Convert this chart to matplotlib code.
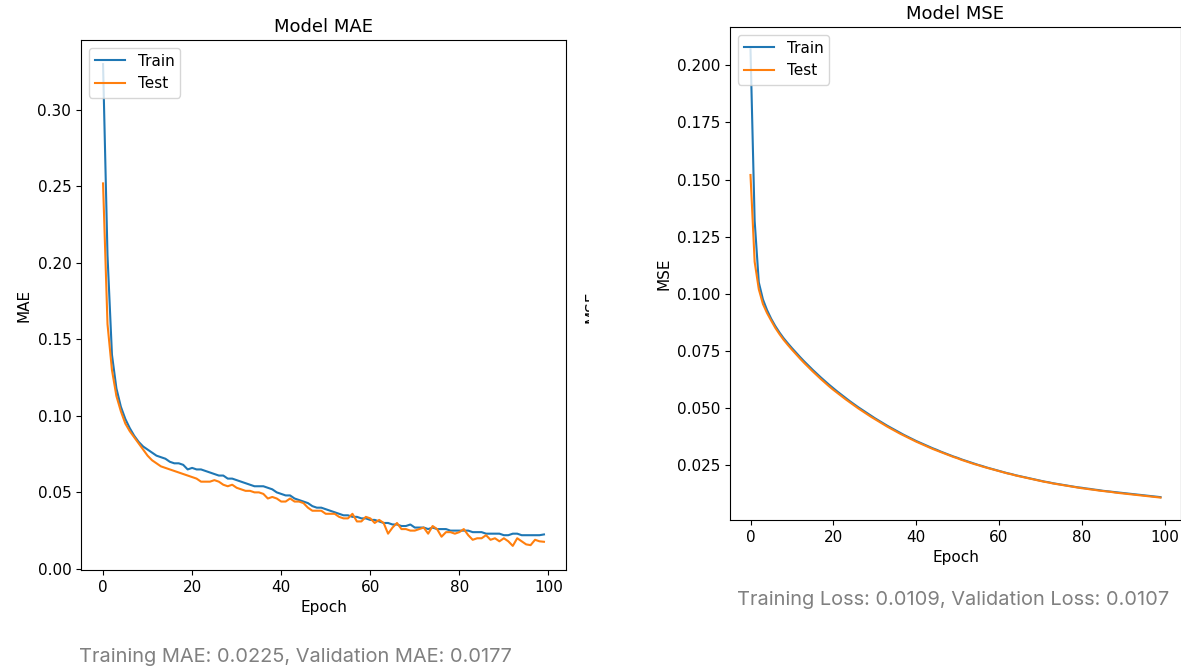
import matplotlib
matplotlib.use("Agg")
import matplotlib.pyplot as plt
from matplotlib.transforms import Bbox, TransformedBbox

W, H = 1181, 671

epochs = list(range(100))

mae_train = [0.330, 0.205, 0.140, 0.118, 0.106, 0.098, 0.092, 0.087, 0.083, 0.080,
             0.078, 0.076, 0.074, 0.073, 0.072, 0.070, 0.069, 0.069, 0.068, 0.065,
             0.066, 0.065, 0.065, 0.064, 0.063, 0.062, 0.061, 0.061, 0.059, 0.059,
             0.058, 0.057, 0.056, 0.055, 0.054, 0.054, 0.054, 0.053, 0.052, 0.050,
             0.049, 0.048, 0.048, 0.046, 0.045, 0.044, 0.043, 0.041, 0.040, 0.040,
             0.039, 0.038, 0.037, 0.036, 0.035, 0.035, 0.034, 0.034, 0.033, 0.033,
             0.032, 0.032, 0.031, 0.030, 0.030, 0.029, 0.029, 0.028, 0.028, 0.029,
             0.027, 0.027, 0.027, 0.026, 0.027, 0.026, 0.026, 0.026, 0.025, 0.025,
             0.025, 0.025, 0.025, 0.024, 0.024, 0.024, 0.023, 0.023, 0.023, 0.023,
             0.022, 0.022, 0.023, 0.023, 0.022, 0.022, 0.022, 0.022, 0.022, 0.0225]

mae_test = [0.252, 0.160, 0.130, 0.113, 0.103, 0.095, 0.090, 0.086, 0.082, 0.078,
            0.074, 0.071, 0.069, 0.067, 0.066, 0.065, 0.064, 0.063, 0.062, 0.061,
            0.060, 0.059, 0.057, 0.057, 0.057, 0.058, 0.057, 0.055, 0.054, 0.055,
            0.053, 0.052, 0.051, 0.051, 0.050, 0.050, 0.049, 0.046, 0.047, 0.046,
            0.044, 0.044, 0.046, 0.044, 0.044, 0.043, 0.040, 0.038, 0.038, 0.038,
            0.036, 0.036, 0.036, 0.034, 0.033, 0.033, 0.036, 0.031, 0.031, 0.034,
            0.033, 0.030, 0.032, 0.030, 0.023, 0.027, 0.030, 0.026, 0.026, 0.025,
            0.025, 0.026, 0.027, 0.023, 0.028, 0.026, 0.021, 0.024, 0.024, 0.023,
            0.024, 0.026, 0.022, 0.019, 0.020, 0.020, 0.022, 0.019, 0.020, 0.018,
            0.020, 0.018, 0.0150, 0.020, 0.018, 0.016, 0.0155, 0.019, 0.018, 0.0177]

mse_train = [0.207, 0.132, 0.105, 0.0975, 0.0928, 0.0890, 0.0858, 0.0830, 0.0805, 0.0783,
             0.0762, 0.0742, 0.0722, 0.0703, 0.0685, 0.0667, 0.0650, 0.0633, 0.0617, 0.0601,
             0.0586, 0.0571, 0.0557, 0.0543, 0.0529, 0.0516, 0.0503, 0.0491, 0.0479, 0.0467,
             0.0455, 0.0444, 0.0433, 0.0422, 0.0412, 0.0402, 0.0392, 0.0382, 0.0373, 0.0364,
             0.0355, 0.0347, 0.0339, 0.0331, 0.0323, 0.0316, 0.0308, 0.0301, 0.0294, 0.0287,
             0.0281, 0.0274, 0.0268, 0.0262, 0.0256, 0.0250, 0.0245, 0.0239, 0.0234, 0.0229,
             0.0224, 0.0219, 0.0214, 0.0210, 0.0205, 0.0201, 0.0197, 0.0193, 0.0189, 0.0185,
             0.0181, 0.0177, 0.0174, 0.0170, 0.0167, 0.0164, 0.0161, 0.0158, 0.0155, 0.0152,
             0.0150, 0.0147, 0.0145, 0.0142, 0.0140, 0.0137, 0.0135, 0.0133, 0.0131, 0.0129,
             0.0127, 0.0125, 0.0123, 0.0121, 0.0119, 0.0117, 0.0115, 0.0113, 0.0111, 0.0109]

mse_test = [0.152, 0.114, 0.102, 0.0955, 0.0915, 0.0882, 0.0850, 0.0823, 0.0798, 0.0776,
            0.0755, 0.0735, 0.0715, 0.0696, 0.0678, 0.0660, 0.0643, 0.0626, 0.0610, 0.0594,
            0.0579, 0.0565, 0.0551, 0.0537, 0.0524, 0.0511, 0.0498, 0.0486, 0.0474, 0.0462,
            0.0451, 0.0440, 0.0429, 0.0418, 0.0408, 0.0398, 0.0388, 0.0379, 0.0370, 0.0361,
            0.0352, 0.0344, 0.0336, 0.0328, 0.0320, 0.0313, 0.0306, 0.0299, 0.0292, 0.0285,
            0.0279, 0.0272, 0.0266, 0.0260, 0.0254, 0.0249, 0.0243, 0.0238, 0.0233, 0.0228,
            0.0223, 0.0218, 0.0213, 0.0209, 0.0204, 0.0200, 0.0196, 0.0192, 0.0188, 0.0184,
            0.0180, 0.0176, 0.0173, 0.0169, 0.0166, 0.0163, 0.0160, 0.0157, 0.0154, 0.0151,
            0.0148, 0.0146, 0.0143, 0.0141, 0.0138, 0.0136, 0.0134, 0.0132, 0.0129, 0.0127,
            0.0125, 0.0123, 0.0121, 0.0119, 0.0117, 0.0115, 0.0113, 0.0111, 0.0109, 0.0107]

captions = ["Training MAE: 0.0225, Validation MAE: 0.0177",
            "Training Loss: 0.0109, Validation Loss: 0.0107"]

plt.rcParams.update({"font.size": 11, "axes.titlesize": 13, "axes.labelsize": 11,
                     "legend.fontsize": 11})

fig = plt.figure(figsize=(W / 100, H / 100), dpi=100)

def px_axes(x0, y0, x1, y1):
    return fig.add_axes([x0 / W, 1 - y1 / H, (x1 - x0) / W, (y1 - y0) / H])

def panel(ax, train, test, name):
    ax.plot(epochs, train, label="Train")
    ax.plot(epochs, test, label="Test")
    ax.set_title(f"Model {name}")
    ax.set_ylabel(name); ax.set_xlabel("Epoch")
    ax.legend(loc="upper left")

ax1 = px_axes(81, 40, 566, 570)
panel(ax1, mae_train, mae_test, "MAE")
ax2 = px_axes(730, 27, 1181, 520)
panel(ax2, mse_train, mse_test, "MSE")

cap_kw = dict(ha="center", va="center", color="#808080", fontsize=14.4, family=["Inter", "DejaVu Sans"])
fig.text(295 / W, 1 - 657 / H, captions[0], **cap_kw)
fig.text(953 / W, 1 - 600 / H, captions[1], **cap_kw)

# clipped leftover label from the screenshot seam
stray = fig.text(584 / W, 1 - 307 / H, "MSE", rotation=90, ha="left", va="center", fontsize=11)
stray.set_clip_box(TransformedBbox(Bbox([[0, 0], [589 / W, 1]]), fig.transFigure))
stray.set_clip_on(True)

fig.savefig("out.png", dpi=100)
